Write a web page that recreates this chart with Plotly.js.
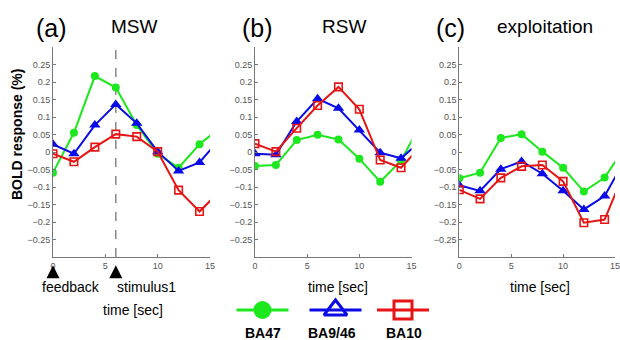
<!DOCTYPE html>
<html><head><meta charset="utf-8">
<script src="https://cdn.plot.ly/plotly-3.0.1.min.js"></script>
<style>html,body{margin:0;padding:0;background:#fff;} #chart{width:620px;height:340px;}</style>
</head><body><div id="chart"></div>
<script>
// time samples (sec); the last sample lies past the 15 s axis edge and is clipped
const time = [0, 2, 4, 6, 8, 10, 12, 14, 16];
const panels = ['MSW', 'RSW', 'exploitation'];
const panelLetters = ['(a)', '(b)', '(c)'];
const regions = ['BA47', 'BA9/46', 'BA10'];

const msw_BA47  = [-0.059, 0.055, 0.217, 0.184, 0.077, -0.005, -0.045, 0.022, 0.070];
const msw_BA946 = [0.022, -0.005, 0.077, 0.136, 0.082, 0.001, -0.054, -0.030, 0.040];
const msw_BA10  = [-0.005, -0.028, 0.014, 0.051, 0.044, 0.001, -0.109, -0.170, -0.110];

const rsw_BA47  = [-0.040, -0.037, 0.034, 0.049, 0.036, -0.019, -0.085, -0.025, 0.087];
const rsw_BA946 = [-0.005, -0.008, 0.087, 0.152, 0.125, 0.063, -0.002, -0.018, 0.035];
const rsw_BA10  = [0.024, 0.001, 0.068, 0.133, 0.186, 0.122, -0.023, -0.045, 0.020];

const exp_BA47  = [-0.075, -0.059, 0.040, 0.051, 0.001, -0.045, -0.113, -0.073, 0.015];
const exp_BA946 = [-0.095, -0.111, -0.049, -0.027, -0.062, -0.111, -0.164, -0.126, -0.020];
const exp_BA10  = [-0.108, -0.134, -0.074, -0.041, -0.037, -0.084, -0.202, -0.193, -0.050];

const eventTimes = [0, 6];
const eventLabels = ['feedback', 'stimulus1'];
const yTickVals = [0.25, 0.2, 0.15, 0.1, 0.05, 0, -0.05, -0.1, -0.15, -0.2, -0.25];
const yTickText = ['0.25', '0.2', '0.15', '0.1', '0.05', '0', '\u22120.05', '\u22120.1', '\u22120.15', '\u22120.2', '\u22120.25'];
const xTickVals = [0, 5, 10, 15];

const seriesByPanel = [
  [msw_BA47, msw_BA946, msw_BA10],
  [rsw_BA47, rsw_BA946, rsw_BA10],
  [exp_BA47, exp_BA946, exp_BA10]
];

const colors = ['#1de81d', '#0a0ae6', '#e61414'];
const symbols = ['circle', 'triangle-up', 'square-open'];
const msizes = [8, 10, 7.5];
const FONT = 'Liberation Sans, Arial, sans-serif';

const W = 620, H = 340;
const px = v => v / W, py = v => 1 - v / H;
const xDomains = [[px(53), px(210)], [px(255), px(411.5)], [px(459.3), px(615)]];
const yDomain = [py(257), py(47)];

const traces = [];
seriesByPanel.forEach((series, p) => {
  const xa = p === 0 ? 'x' : 'x' + (p + 1);
  const ya = p === 0 ? 'y' : 'y' + (p + 1);
  series.forEach((vals, s) => {
    traces.push({
      x: time, y: vals, xaxis: xa, yaxis: ya, type: 'scatter', mode: 'lines+markers',
      name: regions[s],
      line: {color: colors[s], width: 2},
      marker: {symbol: symbols[s], size: msizes[s], color: colors[s],
               line: {color: colors[s], width: s === 2 ? 1.6 : 0}},
      hoverinfo: 'skip'
    });
  });
});

// event markers below panel (a): same time axis, separate strip axis below the plot
traces.push({
  x: eventTimes, y: eventTimes.map(() => 0.75), xaxis: 'x', yaxis: 'y5',
  type: 'scatter', mode: 'markers', cliponaxis: false,
  marker: {symbol: 'arrow-up', size: 13, color: '#000'}, hoverinfo: 'skip'
});

// legend glyphs in a pixel-space overlay axis
const legendCenters = [262.5, 335.5, 403];
const legendSizes = [18, 20, 18];
regions.forEach((r, s) => {
  const c = legendCenters[s];
  traces.push({
    x: [c - 26, c, c + 26], y: [310, 310, 310], xaxis: 'x4', yaxis: 'y4',
    type: 'scatter', mode: 'lines+markers', cliponaxis: false,
    line: {color: colors[s], width: 3},
    marker: {symbol: s === 0 ? 'circle' : (s === 1 ? 'triangle-up-open' : 'square-open'),
             size: [0, legendSizes[s], 0], color: colors[s], opacity: 1,
             line: {color: colors[s], width: s === 0 ? 0 : 3}},
    hoverinfo: 'skip'
  });
});

function xAx(dom, anchor) {
  return {domain: dom, anchor: anchor, range: [0, 15], tickvals: xTickVals, ticks: 'inside', ticklen: 3,
    tickcolor: '#777', showline: true, linecolor: '#777', linewidth: 1, showgrid: false, zeroline: false,
    ticklabeloverflow: 'allow',
    tickfont: {family: FONT, size: 9, color: '#555'}, fixedrange: true};
}
function yAx(anchor) {
  return {domain: yDomain, anchor: anchor, range: [-0.3, 0.3], tickvals: yTickVals, ticktext: yTickText,
    ticks: 'inside', ticklen: 3, tickcolor: '#777', showline: true, linecolor: '#777', linewidth: 1,
    showgrid: false, zeroline: false, tickfont: {family: FONT, size: 9, color: '#555'}, fixedrange: true};
}

const ann = [];
const titleX = [[51.5, 134.5], [257, 343.5], [450, 544.7]];
panels.forEach((t, p) => {
  ann.push({text: panelLetters[p], x: px(titleX[p][0]), y: py(28), xref: 'paper', yref: 'paper',
    xanchor: 'center', yanchor: 'middle', showarrow: false, font: {family: FONT, size: 25, color: '#000'}});
  ann.push({text: t, x: px(titleX[p][1]), y: py(27), xref: 'paper', yref: 'paper',
    xanchor: 'center', yanchor: 'middle', showarrow: false, font: {family: FONT, size: 19, color: '#000'}});
});
ann.push({text: '<b>BOLD response (%)</b>', x: px(17.5), y: py(134.5), xref: 'paper', yref: 'paper',
  textangle: -90, xanchor: 'center', yanchor: 'middle', showarrow: false, font: {family: FONT, size: 14, color: '#000'}});
const evX = [71, 146];
eventLabels.forEach((l, i) => ann.push({text: l, x: px(evX[i]), y: py(287), xref: 'paper', yref: 'paper',
  xanchor: 'center', yanchor: 'middle', showarrow: false, font: {family: FONT, size: 14, color: '#000'}}));
[[133, 310], [338, 287], [540, 287]].forEach(([x, y]) => ann.push({text: 'time [sec]', x: px(x), y: py(y),
  xref: 'paper', yref: 'paper', xanchor: 'center', yanchor: 'middle', showarrow: false,
  font: {family: FONT, size: 14, color: '#000'}}));
const legLabelX = [263, 332, 404];
regions.forEach((r, i) => ann.push({text: '<b>' + r + '</b>', x: px(legLabelX[i]), y: py(332.5),
  xref: 'paper', yref: 'paper', xanchor: 'center', yanchor: 'middle', showarrow: false,
  font: {family: FONT, size: 14, color: '#000'}}));

const layout = {
  width: W, height: H, margin: {l: 0, r: 0, t: 0, b: 0}, paper_bgcolor: '#fff', plot_bgcolor: 'rgba(0,0,0,0)',
  showlegend: false, font: {family: FONT},
  xaxis: xAx(xDomains[0], 'y'), yaxis: yAx('x'),
  xaxis2: xAx(xDomains[1], 'y2'), yaxis2: yAx('x2'),
  xaxis3: xAx(xDomains[2], 'y3'), yaxis3: yAx('x3'),
  xaxis4: {domain: [0, 1], range: [0, W], visible: false, fixedrange: true, anchor: 'y4'},
  yaxis4: {domain: [0, 1], range: [H, 0], visible: false, fixedrange: true, anchor: 'x4'},
  yaxis5: {domain: [py(290), py(257)], range: [0, 1], visible: false, fixedrange: true, anchor: 'x'},
  shapes: [{type: 'line', xref: 'x', yref: 'y domain', x0: eventTimes[1], x1: eventTimes[1], y0: 0, y1: 1,
    layer: 'below', line: {color: '#888', width: 1.5, dash: 'dash'}}],
  annotations: ann
};

Plotly.newPlot('chart', traces, layout, {displayModeBar: false, staticPlot: true});
</script>
</body></html>
